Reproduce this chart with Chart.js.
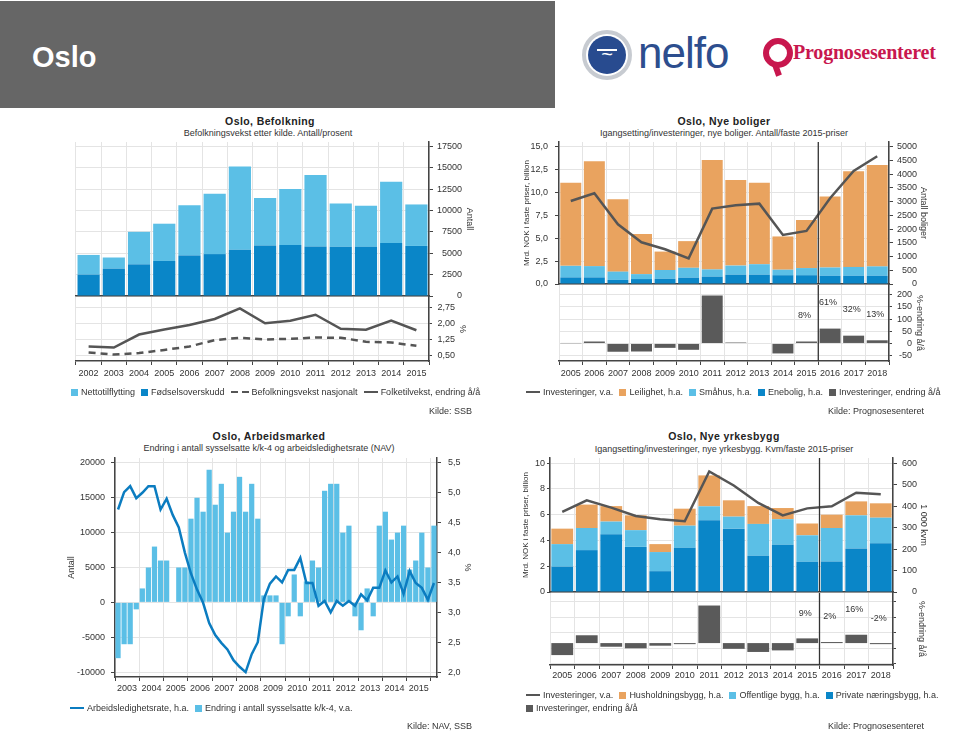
<!DOCTYPE html>
<html>
<head>
<meta charset="utf-8">
<script src="https://cdn.jsdelivr.net/npm/chart.js@4.4.0/dist/chart.umd.min.js"></script>
<style>
body{margin:0;width:959px;height:732px;position:relative;overflow:hidden;background:#fff;
  font-family:"Liberation Sans",Arial,Helvetica,sans-serif;color:#222}
canvas{position:absolute}
#topp{position:absolute;left:0;top:1px;width:555px;height:107px;background:#666}
#topp span{position:absolute;left:32px;top:38px;font-size:29px;font-weight:bold;color:#fff;line-height:36px}
#nelfoRing{position:absolute;left:582px;top:30px;width:42px;height:42px;border-radius:50%;border:4px solid #c7cbd1;background:#fff}
#nelfoKule{position:absolute;left:588px;top:36px;width:38px;height:38px;border-radius:50%;background:#284b8f;color:#fff;
  font-size:20px;line-height:36px;text-align:center}
#nelfoKule:before{content:"";position:absolute;left:9px;top:13px;width:20px;height:2px;background:#fff}
#nelfo{position:absolute;left:638px;top:28px;font-size:44px;letter-spacing:-1px;color:#2d4e8e;line-height:50px}
#progIkon{position:absolute;left:763px;top:38px;width:18px;height:18px;border-radius:50%;border:6px solid #c8174e;background:#fff}
#progHale{position:absolute;left:774px;top:64px;width:6px;height:12px;background:#c8174e;transform:rotate(-20deg)}
#prog{position:absolute;left:793px;top:40px;font-family:"Liberation Serif","DejaVu Serif",serif;font-size:20px;font-weight:bold;color:#c8174e;line-height:24px;letter-spacing:-0.2px}
.tittel{position:absolute;width:400px;margin-left:-200px;text-align:center;font-size:10.5px;font-weight:bold;letter-spacing:0.4px;line-height:12px}
.under{position:absolute;width:400px;margin-left:-200px;text-align:center;font-size:9px;line-height:12px;color:#333}
.lg{position:absolute;font-size:9px;line-height:12px;white-space:nowrap;display:flex;align-items:center;color:#333}
.lg i{display:inline-block;margin:0 3px 0 6px}
.lg i:first-child{margin-left:0}
.lg i.b{width:7px;height:7px}
.lg i.l{width:14px;height:2.5px;background:#555}
.lg i.d{width:18px;height:2.5px;background:linear-gradient(to right,#555 0 7px,transparent 7px 11px,#555 11px 18px)}
.kilde{position:absolute;font-size:9px;line-height:12px;color:#333;text-align:right;width:200px}
</style>
</head>
<body>
<div id="topp"><span>Oslo</span></div>
<div id="nelfoRing"></div><div id="nelfoKule">~</div>
<div id="nelfo">nelfo</div>
<div id="progHale"></div><div id="progIkon"></div>
<div id="prog">Prognosesenteret</div>

<div class="tittel" style="left:270px;top:115px">Oslo, Befolkning</div>
<div class="under" style="left:268px;top:127px">Befolkningsvekst etter kilde. Antall/prosent</div>
<div class="tittel" style="left:724px;top:115px">Oslo, Nye boliger</div>
<div class="under" style="left:724px;top:127px">Igangsetting/investeringer, nye boliger. Antall/faste 2015-priser</div>
<div class="tittel" style="left:269px;top:430px">Oslo, Arbeidsmarked</div>
<div class="under" style="left:269px;top:442px">Endring i antall sysselsatte k/k-4 og arbeidsledighetsrate (NAV)</div>
<div class="tittel" style="left:724px;top:430px">Oslo, Nye yrkesbygg</div>
<div class="under" style="left:724px;top:443px">Igangsetting/investeringer, nye yrkesbygg. Kvm/faste 2015-priser</div>

<canvas id="befTopp"></canvas>
<canvas id="befBunn"></canvas>
<canvas id="bolTopp"></canvas>
<canvas id="bolBunn"></canvas>
<canvas id="arb"></canvas>
<canvas id="yrkTopp"></canvas>
<canvas id="yrkBunn"></canvas>

<div class="lg" style="left:71px;top:386px">
  <i class="b" style="background:#5bbfe6"></i>Nettotilflytting
  <i class="b" style="background:#0a86c8"></i>Fødselsoverskudd
  <i class="d"></i>Befolkningsvekst nasjonalt
  <i class="l"></i>Folketilvekst, endring å/å
</div>
<div class="kilde" style="left:272px;top:405px">Kilde: SSB</div>

<div class="lg" style="left:526px;top:386px">
  <i class="l"></i>Investeringer, v.a.
  <i class="b" style="background:#e9a35f"></i>Leilighet, h.a.
  <i class="b" style="background:#5bbfe6"></i>Småhus, h.a.
  <i class="b" style="background:#0a86c8"></i>Enebolig, h.a.
  <i class="b" style="background:#5a5a5a"></i>Investeringer, endring å/å
</div>
<div class="kilde" style="left:724px;top:405px">Kilde: Prognosesenteret</div>

<div class="lg" style="left:70px;top:702px">
  <i class="l" style="background:#0b7cc0"></i>Arbeidsledighetsrate, h.a.
  <i class="b" style="background:#5bbfe6"></i>Endring i antall sysselsatte k/k-4, v.a.
</div>
<div class="kilde" style="left:272px;top:720px">Kilde: NAV, SSB</div>

<div class="lg" style="left:526px;top:689px">
  <i class="l"></i>Investeringer, v.a.
  <i class="b" style="background:#e9a35f"></i>Husholdningsbygg, h.a.
  <i class="b" style="background:#5bbfe6"></i>Offentlige bygg, h.a.
  <i class="b" style="background:#0a86c8"></i>Private næringsbygg, h.a.
</div>
<div class="lg" style="left:526px;top:702px">
  <i class="b" style="background:#5a5a5a"></i>Investeringer, endring å/å
</div>
<div class="kilde" style="left:724px;top:720px">Kilde: Prognosesenteret</div>

<script>
// Befolkning
const aarBef = ['2002','2003','2004','2005','2006','2007','2008','2009','2010','2011','2012','2013','2014','2015'];
const fodselsoverskudd = [2500,3200,3700,4100,4750,4900,5400,5900,5950,5800,5750,5750,6200,5850];
const nettotilflytting = [2300,1300,3800,4350,5850,7050,9750,5550,6550,8350,5050,4800,7150,4850];
const folketilvekst = [0.93,0.88,1.49,1.73,1.94,2.22,2.72,2.02,2.14,2.42,1.76,1.72,2.14,1.69];
const vekstNasjonalt = [0.65,0.55,0.62,0.77,0.93,1.23,1.34,1.26,1.29,1.35,1.34,1.15,1.12,0.96];
const befAntallTicks = [0,2500,5000,7500,10000,12500,15000,17500];
const befProsentMinor = [0.5,0.75,1,1.25,1.5,1.75,2,2.25,2.5,2.75,3];
const befProsentTicks = [0.5,1.25,2,2.75];

// Nye boliger og yrkesbygg
const aarProg = ['2005','2006','2007','2008','2009','2010','2011','2012','2013','2014','2015','2016','2017','2018'];
const boligInvest = [9.06,9.9,6.52,4.55,3.79,2.8,8.23,8.59,8.77,5.35,5.79,9.36,12.34,13.95];
const enebolig = [240,240,150,180,190,230,270,340,340,320,320,300,300,300];
const smahus = [420,410,300,180,320,360,260,330,380,200,260,300,320,340];
const leilighet = [3020,3820,2630,1460,670,970,3980,3110,2960,1210,1750,2580,3480,3690];
const boligEndring = [1,8,-34,-33,-18,-26,197,4,2,-41,8,61,32,13];
const bolMrdTicks = [0,2.5,5,7.5,10,12.5,15];
const bolAntallTicks = [0,500,1000,1500,2000,2500,3000,3500,4000,4500,5000];
const bolEndringMinor = [-50,-25,0,25,50,75,100,125,150,175,200,225];
const bolEndringTicks = [-50,0,50,100,150,200];

const yrkesInvest = [6.21,7.11,6.55,5.9,5.64,5.49,9.36,8.27,6.91,5.95,6.49,6.65,7.71,7.58];
const privateNaering = [118,195,269,210,97,206,334,295,169,220,141,142,203,227];
const offentlige = [105,103,59,78,89,103,65,56,148,119,123,156,154,119];
const husholdning = [72,109,72,69,37,79,144,76,83,52,55,62,65,67];
const yrkesEndring = [-23,15,-7,-10,-5,-2,72,-11,-17,-14,9,2,16,-2];
const yrkMrdTicks = [0,1,2,3,4,5,6,7,8,9,10];
const yrkKvmTicks = [0,100,200,300,400,500,600];
const yrkEndringMinor = [-40,-30,-20,-10,0,10,20,30,40,50,60,70,80,90];
const yrkEndringTicks = [-30,0,30,60];

// Arbeidsmarked, kvartal 2003K1 - 2016K1
const aarArb = ['2003','2004','2005','2006','2007','2008','2009','2010','2011','2012','2013','2014','2015','2016'];
const sysselsatteEndring = [-8000,-6000,-6000,-1000, 2000,5000,8000,6000, 6000,0,5000,5000,
  12000,15000,13000,19000, 14000,17000,10000,13000, 18000,13000,17000,12000,
  1000,1000,1000,-6000, -2000,4000,-2000,3000, 6000,5000,16000,17000,
  17000,10000,11000,-2000, -4000,2000,-2000,11000, 13000,9000,10000,11000,
  4700,6000,10000,5000, 11000];
const ledighetsrate = [4.72,5.01,5.11,4.91, 5.0,5.11,5.11,4.72, 4.9,4.63,4.42,4.0,
  3.65,3.38,3.16,2.82, 2.62,2.49,2.38,2.2, 2.09,2.0,2.3,2.5,
  3.22,3.48,3.6,3.5, 3.71,3.71,3.91,3.49, 3.49,3.11,3.19,3.0,
  3.19,3.11,3.19,3.11, 3.3,3.2,3.41,3.41, 3.7,3.5,3.6,3.31,
  3.69,3.49,3.41,3.21, 3.49];
const arbAntallTicks = [-10000,-5000,0,5000,10000,15000,20000];
const arbProsentTicks = [2,2.5,3,3.5,4,4.5,5,5.5];
const kvartaler = aarArb.flatMap(a => ['K1','K2','K3','K4'].map(k => a + k)).slice(0, sysselsatteEndring.length);

const LYSBLA = '#5bbfe6', MORKBLA = '#0a86c8', ORANSJE = '#e9a35f', GRABAR = '#5a5a5a';
const LINJEGRA = '#555555', LINJEBLA = '#0b7cc0';
const GRID = '#e4e4e4', AKSE = '#444';
const PAD = 20;

Chart.defaults.font.family = '"Liberation Sans", Arial, Helvetica, sans-serif';
Chart.defaults.font.size = 9;
Chart.defaults.color = '#333';
Chart.defaults.animation = false;
Chart.defaults.plugins.legend.display = false;
Chart.defaults.plugins.tooltip.enabled = false;

const komma = (v, d) => v.toFixed(d).replace('.', ',');
const faste = verdier => s => { s.ticks = verdier.map(v => ({value: v})); };
const bredde = w => s => { s.width = w; };
const hoyde = h => s => { s.height = h; };

// loddrett strek mellom historikk og prognose
Chart.register({
  id: 'prognoseLinje',
  afterDatasetsDraw(chart, args, opt) {
    if (opt.index === undefined) return;
    const x = chart.scales.x, a = chart.chartArea, ctx = chart.ctx;
    const px = (x.getPixelForValue(opt.index - 1) + x.getPixelForValue(opt.index)) / 2;
    ctx.save();
    ctx.strokeStyle = '#333';
    ctx.lineWidth = 1.3;
    ctx.beginPath();
    ctx.moveTo(px, a.top);
    ctx.lineTo(px, a.bottom);
    ctx.stroke();
    ctx.restore();
  }
});

// prosent-etiketter over prognosearene
Chart.register({
  id: 'endringEtiketter',
  afterDatasetsDraw(chart, args, opt) {
    if (!opt.dy) return;
    const x = chart.scales.x, ctx = chart.ctx;
    const data = chart.data.datasets[0].data;
    ctx.save();
    ctx.font = '9px "Liberation Sans", Arial, sans-serif';
    ctx.fillStyle = '#333';
    ctx.textAlign = 'center';
    ctx.textBaseline = 'middle';
    opt.dy.forEach((dy, k) => {
      const i = opt.fra + k;
      ctx.fillText(data[i] + '%', x.getPixelForValue(i) - 2, chart.chartArea.top + dy);
    });
    ctx.restore();
  }
});

// omr = plottets ramme på siden [venstre, topp, høyre, bunn], ext = [venstre akse, høyre akse, x-akse]
function lagGraf(id, omr, ext, config) {
  const c = document.getElementById(id);
  const [l, t, r, b] = omr;
  const w = r - l + ext[0] + ext[1] + 2 * PAD;
  const h = b - t + ext[2] + 2 * PAD;
  c.width = w; c.height = h;
  c.style.width = w + 'px'; c.style.height = h + 'px';
  c.style.left = (l - ext[0] - PAD) + 'px';
  c.style.top = (t - PAD) + 'px';
  config.options.responsive = false;
  config.options.maintainAspectRatio = false;
  config.options.layout = {padding: PAD};
  return new Chart(c, config);
}

function toppX() {
  return {stacked: true, ticks: {display: false}, grid: {color: GRID, drawTicks: false, offset: true},
    border: {color: AKSE, width: 1.5}, afterFit: hoyde(0)};
}
function bunnX(pad) {
  return {offset: true, grid: {offset: true, color: GRID, tickColor: AKSE, tickLength: 4},
    border: {color: AKSE, width: 1.5}, ticks: {maxRotation: 0, autoSkip: false, padding: pad},
    afterFit: hoyde(20)};
}
// høyre akse: tallene høyrejusteres mot aksekanten (bredde w), tittelen legges dx px til høyre for tallene
function hoyreAkse(w, tittel, dx, ekstra) {
  return Object.assign({position: 'right',
    ticks: {crossAlign: 'far'},
    border: {color: AKSE, width: 1.5},
    title: {display: true, text: tittel, padding: {top: -(dx + 5.4), bottom: 0}},
    afterFit: bredde(w)}, ekstra);
}

// ---------- Befolkning ----------
lagGraf('befTopp', [76, 142, 429, 296], [0, 33, 0], {
  type: 'bar',
  data: {labels: aarBef, datasets: [
    {label: 'Fødselsoverskudd', data: fodselsoverskudd, backgroundColor: MORKBLA},
    {label: 'Nettotilflytting', data: nettotilflytting, backgroundColor: LYSBLA}
  ]},
  options: {
    datasets: {bar: {barPercentage: 0.88, categoryPercentage: 1}},
    scales: {
      x: toppX(),
      y: hoyreAkse(33, 'Antall', 7, {stacked: true, min: 0, max: 18000, afterBuildTicks: faste(befAntallTicks),
        ticks: {crossAlign: 'far', callback: v => String(v)},
        grid: {color: GRID, tickColor: AKSE, tickLength: 4}})
    }
  }
});

lagGraf('befBunn', [76, 297, 429, 361], [0, 26, 20], {
  type: 'line',
  data: {labels: aarBef, datasets: [
    {label: 'Folketilvekst, endring å/å', data: folketilvekst, borderColor: LINJEGRA, borderWidth: 2.5},
    {label: 'Befolkningsvekst nasjonalt', data: vekstNasjonalt, borderColor: LINJEGRA, borderWidth: 2.5, borderDash: [7, 5]}
  ]},
  options: {
    elements: {point: {radius: 0}, line: {tension: 0}},
    scales: {
      x: bunnX(3),
      y: hoyreAkse(26, '%', 7, {min: 0.25, max: 3.25, afterBuildTicks: faste(befProsentMinor),
        ticks: {crossAlign: 'far', callback: v => befProsentTicks.includes(v) ? komma(v, 2) : ''},
        grid: {color: GRID, tickColor: AKSE, tickLength: 3}})
    }
  }
});

// ---------- Nye boliger ----------
lagGraf('bolTopp', [559, 142, 889, 284], [37, 28, 0], {
  type: 'bar',
  data: {labels: aarProg, datasets: [
    {type: 'line', label: 'Investeringer, v.a.', data: boligInvest, yAxisID: 'yv', borderColor: LINJEGRA,
      borderWidth: 2.5, pointRadius: 0, tension: 0, order: 0},
    {label: 'Enebolig, h.a.', data: enebolig, yAxisID: 'yh', backgroundColor: MORKBLA, order: 1},
    {label: 'Småhus, h.a.', data: smahus, yAxisID: 'yh', backgroundColor: LYSBLA, order: 1},
    {label: 'Leilighet, h.a.', data: leilighet, yAxisID: 'yh', backgroundColor: ORANSJE, order: 1}
  ]},
  options: {
    datasets: {bar: {barPercentage: 0.89, categoryPercentage: 1}},
    plugins: {prognoseLinje: {index: 11}},
    scales: {
      x: toppX(),
      yv: {position: 'left', min: 0, max: 15.5, afterBuildTicks: faste(bolMrdTicks),
        ticks: {padding: 7, callback: v => komma(v, 1)},
        grid: {color: GRID, tickColor: AKSE, tickLength: 4}, border: {color: AKSE, width: 1.5},
        title: {display: true, text: 'Mrd. NOK i faste priser, billion', padding: 0, font: {size: 8}},
        afterFit: bredde(37)},
      yh: hoyreAkse(28, 'Antall boliger', 6.5, {stacked: true, min: 0, max: 5166.7, afterBuildTicks: faste(bolAntallTicks),
        ticks: {crossAlign: 'far', callback: v => String(v)},
        grid: {drawOnChartArea: false, tickColor: AKSE, tickLength: 4}})
    }
  }
});

lagGraf('bolBunn', [559, 285, 889, 361], [0, 23, 20], {
  type: 'bar',
  data: {labels: aarProg, datasets: [
    {label: 'Investeringer, endring å/å', data: boligEndring, backgroundColor: GRABAR}
  ]},
  options: {
    datasets: {bar: {barPercentage: 0.89, categoryPercentage: 1}},
    plugins: {prognoseLinje: {index: 11}, endringEtiketter: {fra: 10, dy: [31, 18, 25, 30]}},
    scales: {
      x: bunnX(3),
      y: hoyreAkse(23, '%-endring å/å', 7, {min: -72, max: 240, afterBuildTicks: faste(bolEndringMinor),
        ticks: {crossAlign: 'far', callback: v => bolEndringTicks.includes(v) ? String(v) : ''},
        grid: {color: GRID, tickColor: AKSE, tickLength: 3}})
    }
  }
});

// ---------- Arbeidsmarked ----------
lagGraf('arb', [115, 458, 437, 677], [49, 36, 20], {
  type: 'bar',
  data: {labels: kvartaler, datasets: [
    {type: 'line', label: 'Arbeidsledighetsrate, h.a.', data: ledighetsrate, yAxisID: 'yh',
      borderColor: LINJEBLA, borderWidth: 2.5, pointRadius: 0, tension: 0, order: 0},
    {label: 'Endring i antall sysselsatte k/k-4, v.a.', data: sysselsatteEndring, yAxisID: 'yv',
      backgroundColor: LYSBLA, barPercentage: 0.86, categoryPercentage: 1, order: 1}
  ]},
  options: {
    scales: {
      x: {offset: true,
        grid: {offset: true, color: c => c.index % 4 === 0 ? GRID : 'transparent',
          tickColor: c => c.index % 4 === 0 ? AKSE : 'transparent', tickLength: 4},
        border: {color: AKSE, width: 1.5},
        ticks: {autoSkip: false, maxRotation: 0, padding: 2, labelOffset: 3,
          callback: (v, i) => i % 4 === 1 ? kvartaler[i].slice(0, 4) : ''},
        afterFit: hoyde(20)},
      yv: {position: 'left', min: -10700, max: 20700, afterBuildTicks: faste(arbAntallTicks),
        ticks: {padding: 6, callback: v => String(v)},
        grid: {color: GRID, tickColor: AKSE, tickLength: 4}, border: {color: AKSE, width: 1.5},
        title: {display: true, text: 'Antall', padding: 0}, afterFit: bredde(49)},
      yh: {position: 'right', min: 1.91833, max: 5.58167, afterBuildTicks: faste(arbProsentTicks),
        ticks: {padding: 7, callback: v => komma(v, 1)},
        grid: {drawOnChartArea: false, tickColor: AKSE, tickLength: 4}, border: {color: AKSE, width: 1.5},
        title: {display: true, text: '%', padding: 0}, afterFit: bredde(36)}
    }
  }
});

// ---------- Nye yrkesbygg ----------
lagGraf('yrkTopp', [550, 458, 893, 592], [29, 24, 0], {
  type: 'bar',
  data: {labels: aarProg, datasets: [
    {type: 'line', label: 'Investeringer, v.a.', data: yrkesInvest, yAxisID: 'yv', borderColor: LINJEGRA,
      borderWidth: 2.5, pointRadius: 0, tension: 0, order: 0},
    {label: 'Private næringsbygg, h.a.', data: privateNaering, yAxisID: 'yh', backgroundColor: MORKBLA, order: 1},
    {label: 'Offentlige bygg, h.a.', data: offentlige, yAxisID: 'yh', backgroundColor: LYSBLA, order: 1},
    {label: 'Husholdningsbygg, h.a.', data: husholdning, yAxisID: 'yh', backgroundColor: ORANSJE, order: 1}
  ]},
  options: {
    datasets: {bar: {barPercentage: 0.89, categoryPercentage: 1}},
    plugins: {prognoseLinje: {index: 11}},
    scales: {
      x: toppX(),
      yv: {position: 'left', min: 0, max: 10.4, afterBuildTicks: faste(yrkMrdTicks),
        ticks: {padding: 2, callback: v => String(v)},
        grid: {color: GRID, tickColor: AKSE, tickLength: 3}, border: {color: AKSE, width: 1.5},
        title: {display: true, text: 'Mrd. NOK i faste priser, billion', padding: 0, font: {size: 8}},
        afterFit: bredde(29)},
      yh: hoyreAkse(24, '1 000 kvm', 6.5, {stacked: true, min: 0, max: 624, afterBuildTicks: faste(yrkKvmTicks),
        ticks: {crossAlign: 'far', callback: v => String(v)},
        grid: {drawOnChartArea: false, tickColor: AKSE, tickLength: 4}})
    }
  }
});

lagGraf('yrkBunn', [550, 593, 893, 665], [0, 19, 20], {
  type: 'bar',
  data: {labels: aarProg, datasets: [
    {label: 'Investeringer, endring å/å', data: yrkesEndring, backgroundColor: GRABAR}
  ]},
  options: {
    datasets: {bar: {barPercentage: 0.89, categoryPercentage: 1}},
    plugins: {prognoseLinje: {index: 11}, endringEtiketter: {fra: 10, dy: [21, 24, 17, 26]}},
    scales: {
      x: bunnX(1),
      y: hoyreAkse(19, '%-endring å/å', 9.5, {min: -42, max: 96, afterBuildTicks: faste(yrkEndringMinor),
        ticks: {crossAlign: 'far', callback: v => yrkEndringTicks.includes(v) ? String(v) : ''},
        grid: {color: GRID, tickColor: AKSE, tickLength: 3}})
    }
  }
});
</script>
</body>
</html>
